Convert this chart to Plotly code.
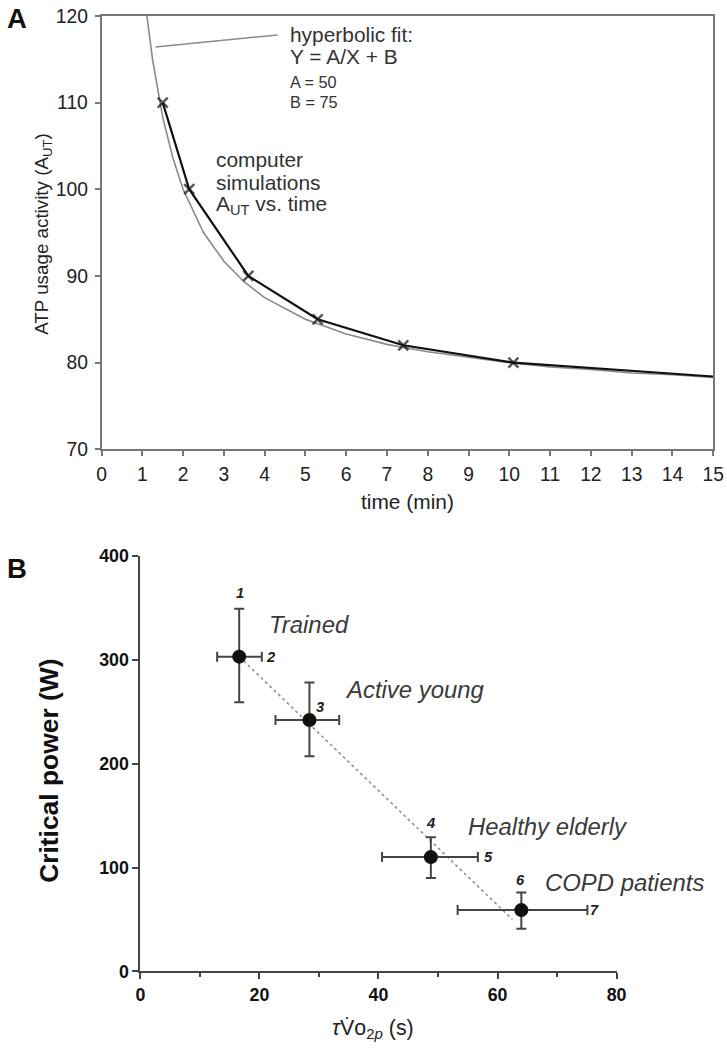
import plotly.graph_objects as go

W, H = 727, 1050
# observed picture ~= 0.983 * page + (4, 7); map reference pixel positions to page pixels
SX, SY, CX, CY = 0.9831, 0.9836, 4.1, 7.1

# ---------------- Panel A data ----------------
sim_time = [1.5, 2.15, 3.6, 5.3, 7.4, 10.1, 15.0]
sim_aut = [110, 100, 90, 85, 82, 80, 78.4]
sim_marked = [True, True, True, True, True, True, False]

fit_time = [1.1, 1.25, 1.5, 1.75, 2.0, 2.5, 3.0, 3.5, 4.0, 5.0, 6.0, 7.0, 8.0, 9.0, 10.0, 11.0, 12.0, 13.0, 14.0, 15.0]
fit_aut = [120.5, 115.0, 108.3, 103.6, 100.0, 95.0, 91.7, 89.3, 87.5, 85.0, 83.3, 82.1, 81.25, 80.6, 80.0, 79.5, 79.2, 78.8, 78.6, 78.3]
fit_A, fit_B = 50, 75

a_xticks = list(range(0, 16))
a_yticks = [70, 80, 90, 100, 110, 120]

# ---------------- Panel B data ----------------
groups = ["Trained", "Active young", "Healthy elderly", "COPD patients"]
tau = [16.6, 28.4, 48.8, 64.0]
cp = [303, 242, 110, 59]
tau_lo = [12.9, 22.7, 40.6, 53.3]
tau_hi = [20.4, 33.4, 56.7, 75.1]
cp_lo = [259, 207, 90, 41]
cp_hi = [349, 278, 129, 76]
group_lx = [21.2, 34.0, 54.7, 67.7]
group_ly = [334, 271, 139, 86]

reg_tau = [16.6, 62.5]
reg_cp = [303, 50]

ref_nums = ["1", "2", "3", "4", "5", "6", "7"]
ref_x = [16.7, 22.0, 30.2, 48.8, 58.4, 63.9, 76.3]
ref_y = [364, 303, 255, 143, 110, 88, 59]

b_xticks = [0, 20, 40, 60, 80]
b_yticks = [0, 100, 200, 300, 400]


def px(x):
    return min(1.0, max(0.0, (x - CX) / SX / W))


def py(y):
    return min(1.0, max(0.0, 1 - (y - CY) / SY / H))


def fs(s):
    return round(s / SX, 1)


fig = go.Figure()

# Panel A traces
fig.add_trace(go.Scatter(
    x=fit_time, y=fit_aut, mode="lines",
    line=dict(color="#8a8a8a", width=1.6),
    xaxis="x", yaxis="y", showlegend=False, hoverinfo="skip"))
fig.add_trace(go.Scatter(
    x=sim_time, y=sim_aut, mode="lines+markers",
    line=dict(color="#111111", width=2.2),
    marker=dict(symbol="x-thin", size=[10 if m else 0 for m in sim_marked],
                line=dict(color="#111111", width=2.5), color="#111111"),
    xaxis="x", yaxis="y", showlegend=False))

# Panel B traces
fig.add_trace(go.Scatter(
    x=reg_tau, y=reg_cp, mode="lines",
    line=dict(color="#8c8c8c", width=1.5, dash="dot"),
    xaxis="x2", yaxis="y2", showlegend=False, hoverinfo="skip"))
fig.add_trace(go.Scatter(
    x=tau, y=cp, mode="markers",
    marker=dict(symbol="circle", size=14, color="#111111"),
    error_x=dict(type="data", symmetric=False,
                 array=[h - v for h, v in zip(tau_hi, tau)],
                 arrayminus=[v - l for v, l in zip(tau, tau_lo)],
                 color="#444444", thickness=2, width=5),
    error_y=dict(type="data", symmetric=False,
                 array=[h - v for h, v in zip(cp_hi, cp)],
                 arrayminus=[v - l for v, l in zip(cp, cp_lo)],
                 color="#444444", thickness=2, width=5),
    xaxis="x2", yaxis="y2", showlegend=False))

font_a = "Arial, Liberation Sans, sans-serif"


def note(text, x, y, size, color="#333", xanchor="left", yanchor="middle", angle=0):
    return dict(text=text, x=px(x), y=py(y), xref="paper", yref="paper",
                xanchor=xanchor, yanchor=yanchor, textangle=angle, showarrow=False,
                align="left", font=dict(size=fs(size), family=font_a, color=color))


annotations = []
# panel letters
annotations.append(note("<b>A</b>", 2, 16, 27, "#111"))
annotations.append(note("<b>B</b>", 2, 568, 27, "#111"))
# Panel A titles
annotations.append(note("time (min)", 408, 500, 20.5, "#222", xanchor="center"))
annotations.append(note("ATP usage activity (A<sub>UT</sub>)", 42, 232, 18.5, "#222",
                        xanchor="center", angle=-90))
# Panel A annotations
annotations.append(note("hyperbolic fit:", 288, 32, 20.5))
annotations.append(note("Y = A/X + B", 288, 54, 20.5))
annotations.append(note(f"A = {fit_A}", 288, 79, 16))
annotations.append(note(f"B = {fit_B}", 288, 99, 16))
annotations.append(note("computer", 214, 157, 20.5))
annotations.append(note("simulations", 214, 180, 20.5))
annotations.append(note("A<sub>UT</sub> vs. time", 214, 203, 20.5))
# Panel B titles
annotations.append(note("<b>Critical power (W)</b>", 48, 771, 26, "#111",
                        xanchor="center", angle=-90))
annotations.append(note("<i>τ</i>V\u0307o<sub>2<i>p</i></sub> (s)", 374, 1030, 21, "#222",
                        xanchor="center"))
# numbers
for t, xx, yy in zip(ref_nums, ref_x, ref_y):
    annotations.append(dict(text=f"<b><i>{t}</i></b>", x=xx, y=yy, xref="x2", yref="y2",
                            xanchor="center", yanchor="middle", showarrow=False,
                            font=dict(size=fs(14.5), family=font_a, color="#222")))
# group labels
for g, xx, yy in zip(groups, group_lx, group_ly):
    annotations.append(dict(text=f"<i>{g}</i>", x=xx, y=yy, xref="x2", yref="y2",
                            xanchor="left", yanchor="middle", showarrow=False,
                            font=dict(size=fs(23.5), family=font_a, color="#3a3a3a")))

shapes = [dict(type="line", xref="x", yref="y", x0=1.32, y0=116.4, x1=4.32, y1=117.8,
               line=dict(color="#8a8a8a", width=1.5))]

fig.update_layout(
    width=W, height=H,
    margin=dict(l=0, r=0, t=0, b=0),
    paper_bgcolor="white", plot_bgcolor="white",
    font=dict(family=font_a),
    xaxis=dict(domain=[px(101), px(715)], range=[0, 15], tickvals=a_xticks,
               ticks="outside", ticklen=5, tickwidth=1.5, tickcolor="#777",
               showline=True, linecolor="#777", linewidth=1.6, mirror=True,
               showgrid=False, zeroline=False, ticklabelstandoff=2,
               tickfont=dict(size=fs(19), color="#222"), anchor="y"),
    yaxis=dict(domain=[py(448), py(13)], range=[70, 120], tickvals=a_yticks,
               ticks="outside", ticklen=5, tickwidth=1.5, tickcolor="#777",
               showline=True, linecolor="#777", linewidth=1.6, mirror=True,
               showgrid=False, zeroline=False, ticklabelstandoff=3,
               tickfont=dict(size=fs(19), color="#222"), anchor="x"),
    xaxis2=dict(domain=[px(140), px(618)], range=[0, 80], tickvals=b_xticks,
                ticks="outside", ticklen=6, tickwidth=2, tickcolor="#444",
                minor=dict(dtick=10, ticks="outside", ticklen=4, tickwidth=2, tickcolor="#444"),
                showline=True, linecolor="#444", linewidth=2,
                showgrid=False, zeroline=False,
                tickfont=dict(size=fs(17.5), color="#111", weight="bold"), anchor="y2"),
    yaxis2=dict(domain=[py(972), py(555)], range=[0, 400], tickvals=b_yticks,
                ticks="outside", ticklen=6, tickwidth=2, tickcolor="#444",
                showline=True, linecolor="#444", linewidth=2,
                showgrid=False, zeroline=False,
                tickfont=dict(size=fs(17.5), color="#111", weight="bold"), anchor="x2"),
    annotations=annotations,
    shapes=shapes,
)

fig.write_html("out.html", config={"displayModeBar": False},
               post_script="document.body.style.margin='0px';document.body.style.overflow='hidden';")
